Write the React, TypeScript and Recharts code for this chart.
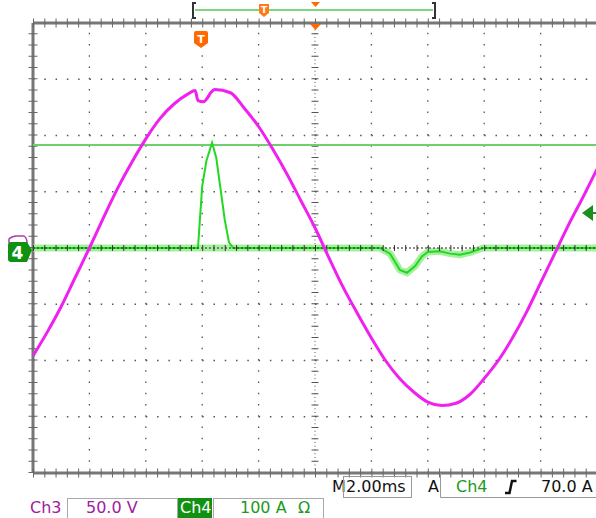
import { LineChart, Line, XAxis, YAxis, ReferenceLine } from 'recharts';

// Ch3 voltage trace (V) at 2 ms/div, 50 V/div
const ch3Time = [
  -10, -9.5, -9, -8.5, -8, -7.5, -7, -6.5, -6, -5.5, -5, -4.5, -4.25, -4.15, -3.95, -3.8, -3.7,
  -3.55, -3, -2.5, -2, -1.5, -1, -0.5, 0, 0.5, 1, 1.5, 2, 2.5, 3, 3.5, 4, 4.5, 5, 5.5, 6, 6.5,
  7, 7.5, 8, 8.5, 9, 9.5, 10,
];
const ch3Volts = [
  -96, -75, -52, -26, 0, 27, 53, 76, 97, 115, 128, 137, 140, 131, 130, 134, 138,
  141, 138, 124, 108, 88, 66, 42, 18, -9, -35, -58, -80, -100, -116, -128, -137, -140, -138, -130, -116, -100,
  -80, -57, -31, -5, 21, 45, 70,
];

// Ch4 current trace (A), 100 A/div
const ch4Time = [
  -10, -4.15, -4.0, -3.85, -3.65, -3.5, -3.35, -3.2, -3.05, -2.9, 2.3, 2.66, 3.01, 3.26, 3.55, 3.79,
  4.0, 4.43, 4.79, 5.14, 5.5, 5.96, 10,
];
const ch4Amps = [
  0, 0, 110, 155, 187, 160, 105, 50, 10, 0, 0, -10, -39, -44, -32, -15,
  -7, -6, -10, -12, -8, 0, 0,
];

const cursorAmps = 183;
const xGrid = [-8, -6, -4, -2, 2, 4, 6, 8];
const yGrid = [-300, -200, -100, 100, 200, 300];

const ch3Data = ch3Time.map((t, i) => ({ t, v: ch3Volts[i] }));
const ch4Data = ch4Time.map((t, i) => ({ t, a: ch4Amps[i] }));
// noise band only shows where the trace sits near its baseline
const ch4Band = ch4Data.filter((d) => d.a < 5);

const FONT = '"DejaVu Sans", Verdana, sans-serif';
const DOT_H = '1.5 9.78';
const DOT_V = '1.5 9.75';

export default function App() {
  return (
    <div style={{ position: 'absolute', left: 0, top: 0, width: 596, height: 518, overflow: 'hidden', background: '#fff' }}>
      <LineChart width={600} height={518} data={ch3Data} margin={{ top: 23, right: 3, bottom: 45, left: 33 }}>
        <XAxis type="number" dataKey="t" domain={[-10, 10]} hide allowDataOverflow />
        <YAxis yAxisId="v" type="number" domain={[-200, 200]} hide allowDataOverflow />
        <YAxis yAxisId="a" type="number" domain={[-400, 400]} hide allowDataOverflow />

        {/* graticule */}
        {xGrid.map((x) => (
          <ReferenceLine key={`gx${x}`} x={x} yAxisId="a" stroke="#555" strokeDasharray={DOT_V} strokeWidth={1.3} />
        ))}
        {yGrid.map((y) => (
          <ReferenceLine key={`gy${y}`} y={y} yAxisId="a" stroke="#555" strokeDasharray={DOT_H} strokeWidth={1.3} />
        ))}
        <ReferenceLine x={0} yAxisId="a" stroke="#555" strokeDasharray="1 2.75" strokeWidth={1} />
        <ReferenceLine x={0} yAxisId="a" stroke="#555" strokeDasharray="1 10.25" strokeWidth={7} />
        <ReferenceLine x={-10} yAxisId="a" stroke="#777" strokeWidth={3} />
        <ReferenceLine x={-10} yAxisId="a" stroke="#666" strokeDasharray="1 10.25" strokeWidth={9} />
        <ReferenceLine y={400} yAxisId="a" stroke="#777" strokeWidth={3} />
        <ReferenceLine y={400} yAxisId="a" stroke="#666" strokeDasharray="1 10.28" strokeWidth={9} />
        <ReferenceLine y={-400} yAxisId="a" stroke="#777" strokeWidth={3} />
        <ReferenceLine y={-400} yAxisId="a" stroke="#666" strokeDasharray="1 10.28" strokeWidth={9} />

        <ReferenceLine y={cursorAmps} yAxisId="a" stroke="#6fcf6f" strokeWidth={2} />

        <Line data={ch4Band} dataKey="a" yAxisId="a" type="linear" dot={false} stroke="#a6ef9f" strokeWidth={7} isAnimationActive={false} />
        <Line data={ch4Data} dataKey="a" yAxisId="a" type="linear" dot={false} stroke="#22d822" strokeWidth={2} isAnimationActive={false} />
        <ReferenceLine y={0} yAxisId="a" stroke="#222" strokeDasharray="2 2" strokeWidth={1} />
        <ReferenceLine y={0} yAxisId="a" stroke="#333" strokeDasharray="1 10.28" strokeWidth={6} />
        <Line data={ch3Data} dataKey="v" yAxisId="v" type="monotone" dot={false} stroke="#f020f0" strokeWidth={3} isAnimationActive={false} />
      </LineChart>

      <svg width={596} height={518} style={{ position: 'absolute', left: 0, top: 0, pointerEvents: 'none' }} fontFamily={FONT}>
        {/* top record bar */}
        <path d="M196,3 L193,3 L193,18 L196,18" fill="none" stroke="#333" strokeWidth={2} />
        <line x1={195} y1={10} x2={433} y2={10} stroke="#7fd67f" strokeWidth={2} />
        <path d="M432,3 L435,3 L435,18 L432,18" fill="none" stroke="#333" strokeWidth={2} />
        <path d="M259,4 L269,4 L269,13 L264,17 L259,13 Z" fill="#ff7a1a" />
        <text x={264} y={13} fontSize={9} fontWeight="bold" fill="#fff" textAnchor="middle">T</text>
        <path d="M311,2 L320,2 L315.5,7 Z" fill="#ff6a00" />

        {/* markers inside the screen */}
        <path d="M310,24 L321,24 L315.5,30 Z" fill="#ff6a00" />
        <path d="M194,33 Q194,31 196,31 L206,31 Q208,31 208,33 L208,43 L201,48 L194,43 Z" fill="#ff6a00" />
        <text x={201} y={43} fontSize={11} fontWeight="bold" fill="#fff" textAnchor="middle">T</text>

        {/* channel markers, left */}
        <path d="M9,243 L9,239 Q12,236 17,236 L24,236 Q27,238 27,243" fill="none" stroke="#b03cb0" strokeWidth={1.5} />
        <path d="M8,245 Q8,242 11,242 L27,242 L32,250 L27,262 L11,262 Q8,262 8,259 Z" fill="#119111" />
        <text x={17.5} y={259} fontSize={17} fontWeight="bold" fill="#fff" textAnchor="middle">4</text>

        {/* trigger level arrow, right */}
        <path d="M582,213 L593,205 L593,221 Z" fill="#1b8f1b" />
        <line x1={590} y1={213} x2={596} y2={213} stroke="#1b8f1b" strokeWidth={2} />

        {/* readout row 1 */}
        <text x={332} y={492} fontSize={16} fill="#111">M</text>
        <rect x={343.5} y={476.5} width={68} height={21} fill="none" stroke="#999" strokeWidth={1} />
        <text x={346} y={492} fontSize={16} fill="#111">2.00ms</text>
        <text x={428} y={492} fontSize={16} fill="#111">A</text>
        <path d="M440.5,473 L440.5,497.5 L596,497.5" fill="none" stroke="#999" strokeWidth={1} />
        <text x={456} y={492} fontSize={16} fill="#1c9a1c">Ch4</text>
        <path d="M505,493 L509.5,493 L512,481 L516.5,481" fill="none" stroke="#111" strokeWidth={2.5} />
        <text x={541} y={492} fontSize={16} fill="#111">70.0 A</text>

        {/* readout row 2 */}
        <text x={30} y={513} fontSize={16} fill="#a0209f">Ch3</text>
        <rect x={67.5} y={498.5} width={110} height={20} fill="none" stroke="#aaa" strokeWidth={1} />
        <text x={86} y={513} fontSize={16} fill="#a0209f">50.0 V</text>
        <rect x={178} y={498} width={34} height={20} fill="#119111" />
        <text x={180} y={513} fontSize={16} fill="#fff">Ch4</text>
        <rect x={213.5} y={498.5} width={110} height={20} fill="none" stroke="#aaa" strokeWidth={1} />
        <text x={240} y={513} fontSize={16} fill="#1c9a1c">100 A</text>
        <text x={298} y={513} fontSize={16} fill="#1c9a1c">Ω</text>
      </svg>
    </div>
  );
}
